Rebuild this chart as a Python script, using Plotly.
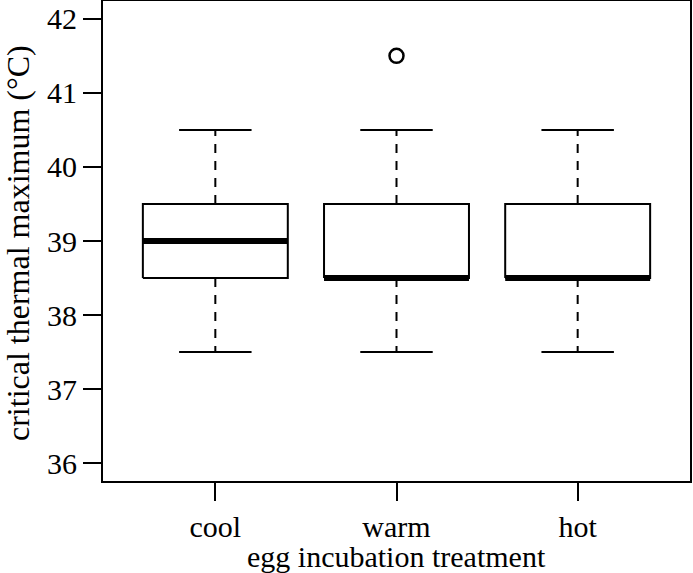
import plotly.graph_objects as go

categories = ["cool", "warm", "hot"]
lower_whisker = [37.5, 37.5, 37.5]
q1 = [38.5, 38.5, 38.5]
median = [39.0, 38.5, 38.5]
q3 = [39.5, 39.5, 39.5]
upper_whisker = [40.5, 40.5, 40.5]
outlier_cat = ["warm"]
outlier_val = [41.5]
y_ticks = [36, 37, 38, 39, 40, 41, 42]

BOX_HALF = 0.4
CAP_HALF = 0.2
FONT = "Liberation Serif, Times New Roman, serif"
FS = 30

fig = go.Figure()
for i, cat in enumerate(categories):
    xc = i + 1
    fig.add_trace(go.Scatter(x=[xc, xc, None, xc, xc],
                             y=[q3[i], upper_whisker[i], None, q1[i], lower_whisker[i]],
                             mode="lines", line=dict(color="black", width=2, dash="9px,8px"),
                             hoverinfo="skip", showlegend=False))
    fig.add_trace(go.Scatter(x=[xc - CAP_HALF, xc + CAP_HALF, None, xc - CAP_HALF, xc + CAP_HALF],
                             y=[upper_whisker[i], upper_whisker[i], None, lower_whisker[i], lower_whisker[i]],
                             mode="lines", line=dict(color="black", width=2),
                             hoverinfo="skip", showlegend=False))
    fig.add_trace(go.Scatter(x=[xc - BOX_HALF, xc + BOX_HALF, xc + BOX_HALF, xc - BOX_HALF, xc - BOX_HALF],
                             y=[q1[i], q1[i], q3[i], q3[i], q1[i]],
                             mode="lines", line=dict(color="black", width=2),
                             hoverinfo="skip", showlegend=False))
    fig.add_trace(go.Scatter(x=[xc - BOX_HALF, xc + BOX_HALF], y=[median[i], median[i]],
                             mode="lines", line=dict(color="black", width=6),
                             hoverinfo="skip", showlegend=False))

fig.add_trace(go.Scatter(x=[categories.index(c) + 1 for c in outlier_cat], y=outlier_val,
                         mode="markers",
                         marker=dict(symbol="circle-open", size=14, color="black", line=dict(width=2.5)),
                         hoverinfo="skip", showlegend=False))

fig.update_layout(
    width=693, height=573,
    margin=dict(l=103, r=3, t=1, b=92),
    plot_bgcolor="white", paper_bgcolor="white",
    font=dict(family=FONT, size=FS, color="black"),
    xaxis=dict(range=[0.38, 3.62], tickvals=[1, 2, 3], ticktext=categories,
               automargin=False,
               showgrid=False, zeroline=False, showline=True, mirror=True,
               linecolor="black", linewidth=2, ticks="outside", ticklen=18, tickwidth=2,
               tickcolor="black", tickfont=dict(family=FONT, size=FS)),
    yaxis=dict(range=[35.76, 42.24], tickvals=y_ticks,
               automargin=False,
               showgrid=False, zeroline=False, showline=True, mirror=True,
               linecolor="black", linewidth=2, ticks="outside", ticklen=18, tickwidth=2,
               tickcolor="black", tickfont=dict(family=FONT, size=FS)),
    annotations=[
        dict(text="egg incubation treatment", xref="paper", yref="paper", x=0.5, y=0,
             xanchor="center", yanchor="middle", yshift=-75, showarrow=False,
             font=dict(family=FONT, size=FS)),
        dict(text="critical thermal maximum (°C)", xref="paper", yref="paper", x=0, y=0.5,
             xanchor="center", yanchor="middle", xshift=-85, yshift=-2, textangle=-90,
             showarrow=False, font=dict(family=FONT, size=32)),
    ],
)

fig.write_html("out.html", config={"displayModeBar": False},
               post_script="document.body.style.margin='0';")
